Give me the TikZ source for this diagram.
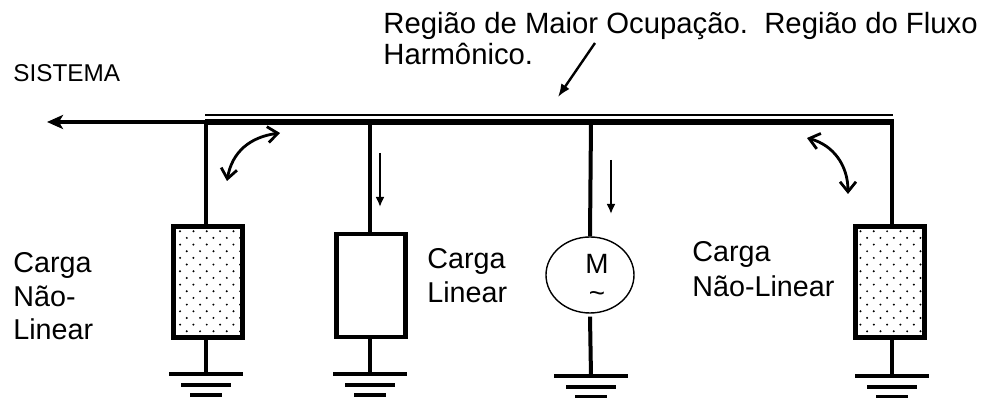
\documentclass[tikz,border=0pt]{standalone}
\usepackage{fontspec}
\setmainfont{Liberation Sans}
\usetikzlibrary{shapes, calc, arrows, arrows.meta, patterns, positioning}

\pgfdeclarepatternformonly{pontos}{\pgfqpoint{-1bp}{-1bp}}{\pgfqpoint{5.67bp}{5.67bp}}{\pgfqpoint{6.67bp}{6.67bp}}{%
    \pgfpathcircle{\pgfqpoint{0bp}{0bp}}{0.55bp}
    \pgfpathcircle{\pgfqpoint{3.33bp}{3.33bp}}{0.55bp}
    \pgfusepath{fill}}

\begin{document}
\begin{tikzpicture}[x=0.5bp, y=-0.5bp, >=latex, font=\fontsize{14.4}{17.5}\selectfont,
    carga/.style={draw, line width=2.2bp, inner sep=0pt, minimum width=34.5bp},
    naolinear/.style={carga, pattern=pontos, minimum height=55.5bp},
    fio/.style={line width=2bp},
    terra/.style={line width=2bp},
    seta/.style={-{Latex[length=5bp, width=4.5bp]}, line width=1bp},
    curva/.style={{Straight Barb[length=5bp, width=8bp]}-{Straight Barb[length=5bp, width=8bp]}, line width=1.4bp},
    rotulo/.style={anchor=base west, align=left, inner sep=0pt}]

\useasboundingbox (0,0) rectangle (983,398);

\coordinate (bi) at (205,115);
\coordinate (bf) at (893,115);
\coordinate (b0) at (205,122);
\coordinate (b4) at (894,122);
\coordinate (sis) at (47,122);

\coordinate (t1) at (206,122);
\coordinate (t2) at (370,122);
\coordinate (t3) at (591,122);
\coordinate (t4) at (892,122);

\coordinate (g1) at (206,374);
\coordinate (g2) at (370,374);
\coordinate (g3) at (591,376);
\coordinate (g4) at (892,376);

\node [naolinear] (c1) at (208,282) {};
\node [carga, minimum height=51.5bp] (c2) at (371,285.5) {};
\node [draw, ellipse, line width=0.7bp, inner sep=0pt, minimum width=44bp, minimum height=38bp] (mot) at (590,275) {};
\node [naolinear] (c4) at (890,282) {};

\draw[line width=1.1bp] (bi) -- (bf);
\draw[line width=2.6bp] (b0) -- (b4);
\draw[line width=1.8bp, -{Stealth[length=8bp, width=7bp, inset=2bp]}] (b0) -- (sis);

\draw[fio] (t1) -- (t1 |- c1.north);
\draw[fio] (t2) -- (t2 |- c2.north);
\draw[fio] (t3) -- (mot.north);
\draw[fio] (t4) -- (t4 |- c4.north);

\draw[fio] (t1 |- c1.south) -- (g1);
\draw[fio] (t2 |- c2.south) -- (g2);
\draw[fio] ($(mot.south)+(0,3)$) -- (g3);
\draw[fio] (t4 |- c4.south) -- (g4);

\foreach \g in {g1,g2,g3,g4}
    \draw[terra] ($(\g)+(-37,0)$) -- ($(\g)+(37,0)$)
                 ($(\g)+(-25,11)$) -- ($(\g)+(25,11)$)
                 ($(\g)+(-16,21)$) -- ($(\g)+(16,21)$);

\coordinate (a2i) at (380,153);
\coordinate (a2f) at (380,207);
\coordinate (a3i) at (611,160);
\coordinate (a3f) at (611,214);
\draw[seta] (a2i) -- (a2f);
\draw[seta] (a3i) -- (a3f);

\coordinate (cv1a) at (227,181);
\coordinate (cv1b) at (280,133);
\coordinate (cv4a) at (807,138);
\coordinate (cv4b) at (848,194);
\draw[curva] (cv1a) .. controls (232,152) and (250,137) .. (cv1b);
\draw[curva] (cv4a) .. controls (833,145) and (848,165) .. (cv4b);

\coordinate (pt0) at (595,43);
\coordinate (pt1) at (558,97);
\draw[-{Latex[length=6.5bp, width=5bp]}, line width=1.2bp] (pt0) -- (pt1);

\node [rotulo, font=\fontsize{14.7}{16}\selectfont] (regiao) at (383,65) {Região de Maior Ocupação.~~Região do Fluxo\\Harmônico.};
\node [rotulo, font=\fontsize{12.2}{14}\selectfont] (sistema) at (13,82) {SISTEMA};
\node [rotulo, font=\fontsize{14.4}{17}\selectfont] (lab1) at (13,340) {Carga\\Não-\\Linear};
\node [rotulo] (lab2) at (427,303) {Carga\\Linear};
\node [rotulo, font=\fontsize{14.4}{18}\selectfont] (lab4) at (692,297) {Carga\\Não-Linear};
\node [anchor=base, align=center, inner sep=0pt, font=\fontsize{14}{15}\selectfont] (mtx) at (597,303) {M\\\textasciitilde};

\end{tikzpicture}
\end{document}
